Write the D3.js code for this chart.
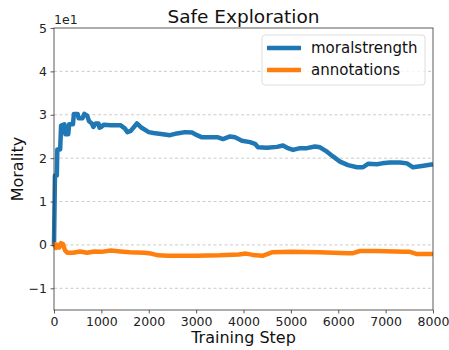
<!DOCTYPE html>
<html>
<head>
<meta charset="utf-8">
<script src="https://cdn.jsdelivr.net/npm/d3@7"></script>
<style>
  html, body { margin: 0; padding: 0; background: #fff; }
  svg { display: block; font-family: "DejaVu Sans", sans-serif; }
</style>
</head>
<body>
<svg id="chart" width="449" height="350"></svg>
<script>
// Running morality score per training step, two sources
const moralSteps = [0, 20, 60, 70, 130, 150, 220, 240, 300, 320, 400, 420, 500, 520, 600, 640, 700, 740, 800, 830, 880, 940, 960, 1000, 1050, 1200, 1400, 1500, 1550, 1620, 1750, 1850, 2000, 2100, 2300, 2449, 2596, 2765, 2913, 3018, 3124, 3293, 3462, 3567, 3715, 3821, 3968, 4137, 4243, 4306, 4496, 4707, 4834, 4939, 5045, 5193, 5340, 5509, 5615, 5762, 5889, 6037, 6206, 6396, 6522, 6628, 6818, 6923, 7092, 7303, 7451, 7578, 7768, 8000];
const moralValues = [0.0, 16.0, 16.0, 22.0, 22.0, 27.5, 27.8, 25.5, 25.5, 27.8, 27.8, 30.2, 30.2, 29.2, 29.2, 30.2, 29.8, 28.5, 28.0, 27.2, 28.0, 28.0, 27.0, 27.2, 27.7, 27.6, 27.6, 26.8, 26.0, 26.3, 28.0, 27.0, 26.0, 25.8, 25.5, 25.3, 25.7, 26.0, 25.9, 25.3, 24.8, 24.8, 24.8, 24.4, 25.0, 24.8, 24.0, 23.7, 23.3, 22.5, 22.4, 22.6, 22.9, 22.3, 21.9, 22.3, 22.3, 22.7, 22.5, 21.5, 20.4, 19.2, 18.4, 17.9, 17.9, 18.7, 18.6, 18.8, 19.0, 19.0, 18.8, 17.9, 18.2, 18.6];

const annotSteps = [0, 20, 40, 80, 110, 150, 190, 230, 280, 400, 550, 700, 850, 1000, 1200, 1400, 1600, 1900, 2050, 2200, 2400, 3000, 3500, 3900, 4050, 4200, 4400, 4600, 5000, 5600, 6200, 6311, 6459, 6800, 7400, 7514, 7662, 8000];
const annotValues = [-0.5, 0.2, -0.7, 0.0, -0.6, 0.4, 0.2, -1.2, -1.8, -1.8, -1.5, -1.8, -1.5, -1.6, -1.3, -1.5, -1.7, -1.8, -2.0, -2.4, -2.5, -2.5, -2.4, -2.2, -2.0, -2.3, -2.5, -1.7, -1.6, -1.7, -1.9, -1.9, -1.4, -1.4, -1.6, -1.6, -2.1, -2.1];

const xTicks = [0, 1000, 2000, 3000, 4000, 5000, 6000, 7000, 8000];
const yTicks = [-10, 0, 10, 20, 30, 40, 50];

const seriesNames = ["moralstrength", "annotations"];
const seriesColors = ["#1f77b4", "#ff7f0e"];

const series = [
  { name: seriesNames[0], color: seriesColors[0], pts: moralSteps.map((s, i) => [s, moralValues[i]]) },
  { name: seriesNames[1], color: seriesColors[1], pts: annotSteps.map((s, i) => [s, annotValues[i]]) }
];

const W = 449, H = 350;
const m = { top: 28, right: 16, bottom: 40, left: 54 };
const iw = W - m.left - m.right, ih = H - m.top - m.bottom;

const svg = d3.select("#chart");
const g = svg.append("g").attr("transform", `translate(${m.left},${m.top})`);

const x = d3.scaleLinear().domain([0, 8000]).range([0, iw]);
const y = d3.scaleLinear().domain([-15, 50]).range([ih, 0]);

// horizontal dashed grid
g.append("g")
  .selectAll("line")
  .data(yTicks.filter(t => t < 50))
  .join("line")
  .attr("x1", 0).attr("x2", iw)
  .attr("y1", d => y(d)).attr("y2", d => y(d))
  .attr("stroke", "#b0b0b0")
  .attr("stroke-width", 0.8)
  .attr("stroke-dasharray", "3,2.5")
  .attr("opacity", 0.8);

const line = d3.line().x(d => x(d[0])).y(d => y(d[1])).curve(d3.curveLinear);

g.append("g")
  .selectAll("path")
  .data(series)
  .join("path")
  .attr("d", d => line(d.pts))
  .attr("fill", "none")
  .attr("stroke", d => d.color)
  .attr("stroke-width", 4.5)
  .attr("stroke-linejoin", "round")
  .attr("stroke-linecap", "butt");

// axes
const xAxis = d3.axisBottom(x).tickValues(xTicks).tickFormat(d3.format("d")).tickSizeOuter(0).tickSize(3.5).tickPadding(3.5);
const yAxis = d3.axisLeft(y).tickValues(yTicks).tickFormat(d => d / 10).tickSizeOuter(0).tickSize(3.5).tickPadding(3.5);

const gx = g.append("g").attr("transform", `translate(0,${ih})`).call(xAxis);
const gy = g.append("g").call(yAxis);
[gx, gy].forEach(a => {
  a.select(".domain").remove();
  a.selectAll(".tick line").attr("stroke", "#333").attr("stroke-width", 0.8);
  a.selectAll(".tick text").attr("fill", "#222").style("font-size", "12.5px").style("font-family", "DejaVu Sans");
});
gy.selectAll(".tick text").text(d => d < 0 ? "\u2212" + Math.abs(d / 10) : d / 10);

// frame
g.append("rect")
  .attr("x", 0).attr("y", 0).attr("width", iw).attr("height", ih)
  .attr("fill", "none").attr("stroke", "#333").attr("stroke-width", 0.8);

// axis offset text
g.append("text").attr("x", 0).attr("y", -4)
  .style("font-size", "12.5px").attr("fill", "#222").text("1e1");

// title and labels
svg.append("text").attr("x", m.left + iw / 2).attr("y", 23)
  .attr("text-anchor", "middle").style("font-size", "18.5px").attr("fill", "#111")
  .text("Safe Exploration");
svg.append("text").attr("x", m.left + iw / 2).attr("y", 343)
  .attr("text-anchor", "middle").style("font-size", "16px").attr("fill", "#111")
  .text("Training Step");
svg.append("text").attr("transform", `translate(23,${m.top + ih / 2}) rotate(-90)`)
  .attr("text-anchor", "middle").style("font-size", "16px").attr("fill", "#111")
  .text("Morality");

// legend
const lg = g.append("g").attr("transform", `translate(${iw - 171},7)`);
lg.append("rect").attr("width", 163).attr("height", 50).attr("rx", 3)
  .attr("fill", "#fff").attr("fill-opacity", 0.8)
  .attr("stroke", "#d5d5d5").attr("stroke-width", 0.8);
const items = lg.selectAll("g.item").data(series).join("g")
  .attr("class", "item")
  .attr("transform", (d, i) => `translate(5,${13 + i * 22})`);
items.append("line").attr("x1", 0).attr("x2", 34)
  .attr("stroke", d => d.color).attr("stroke-width", 4.5);
items.append("text").attr("x", 44).attr("y", 5)
  .style("font-size", "15px").attr("fill", "#111").text(d => d.name);
</script>
</body>
</html>
